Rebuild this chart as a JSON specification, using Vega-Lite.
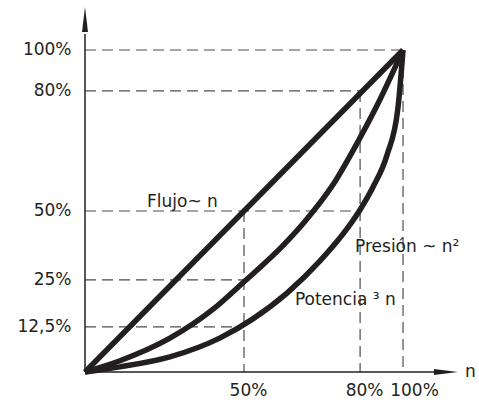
{
  "$schema": "https://vega.github.io/schema/vega-lite/v6.json",
  "width": 374,
  "height": 365,
  "autosize": {"type": "none"},
  "padding": {"left": 85, "top": 7, "right": 20, "bottom": 31},
  "background": "white",
  "config": {
    "view": {"stroke": null},
    "axis": {"grid": false, "ticks": false, "domain": false, "labelFont": "DejaVu Sans", "labelFontSize": 17, "labelColor": "#231f20", "title": null, "labelOverlap": false, "labelBound": false, "labelFlush": false}
  },
  "datasets": {
    "dashes": [
      {"x": 0, "y": 100, "x2": 100, "y2": 100},
      {"x": 0, "y": 87.3, "x2": 86.5, "y2": 87.3},
      {"x": 0, "y": 50, "x2": 86.5, "y2": 50},
      {"x": 0, "y": 28.6, "x2": 50, "y2": 28.6},
      {"x": 0, "y": 14, "x2": 50, "y2": 14},
      {"x": 50, "y": 50, "x2": 50, "y2": 0},
      {"x": 86.5, "y": 87.3, "x2": 86.5, "y2": 0},
      {"x": 100, "y": 100, "x2": 100, "y2": 0}
    ],
    "axes": [
      {"x": 0, "y": 0, "x2": 110, "y2": 0},
      {"x": 0, "y": 0, "x2": 0, "y2": 105}
    ],
    "curves": [
      {"s": "flujo", "x": 0, "y": 0},
      {"s": "flujo", "x": 100, "y": 100},
      {"s": "presion", "x": 0, "y": 0},
      {"s": "presion", "x": 11, "y": 3.5},
      {"s": "presion", "x": 26.7, "y": 10.5},
      {"s": "presion", "x": 40.3, "y": 19.5},
      {"s": "presion", "x": 50, "y": 28},
      {"s": "presion", "x": 62.3, "y": 39.3},
      {"s": "presion", "x": 69.2, "y": 46.8},
      {"s": "presion", "x": 78, "y": 58.2},
      {"s": "presion", "x": 85.8, "y": 71.5},
      {"s": "presion", "x": 92.8, "y": 84.7},
      {"s": "presion", "x": 100, "y": 100},
      {"s": "potencia", "x": 0, "y": 0},
      {"s": "potencia", "x": 11, "y": 1.6},
      {"s": "potencia", "x": 26.7, "y": 4.7},
      {"s": "potencia", "x": 42.5, "y": 10.6},
      {"s": "potencia", "x": 52.8, "y": 16.5},
      {"s": "potencia", "x": 63.5, "y": 24.5},
      {"s": "potencia", "x": 73.9, "y": 34.5},
      {"s": "potencia", "x": 82.4, "y": 44.5},
      {"s": "potencia", "x": 86.5, "y": 50.4},
      {"s": "potencia", "x": 90.6, "y": 57.5},
      {"s": "potencia", "x": 95, "y": 67.5},
      {"s": "potencia", "x": 98.4, "y": 82},
      {"s": "potencia", "x": 100, "y": 100}
    ],
    "labels": [
      {"x": 19.5, "y": 51.2, "t": "Flujo~  n"},
      {"x": 84.9, "y": 37.3, "t": "Presión ~ n²"},
      {"x": 66, "y": 20.8, "t": "Potencia  ³ n"},
      {"x": 119.5, "y": -1.5, "t": "n"}
    ],
    "arrowY": [{"x": 0, "y": 109.5}],
    "arrowX": [{"x": 113.5, "y": 0}]
  },
  "encoding": {
    "x": {
      "field": "x", "type": "quantitative",
      "scale": {"domain": [0, 117.6], "nice": false, "zero": false},
      "axis": {
        "values": [50, 86.5, 100],
        "labelExpr": "datum.value == 50 ? '50%' : datum.value == 100 ? '100%' : '80%'",
        "labelPadding": 10,
        "labelOffset": {"condition": {"test": "datum.value == 100", "value": 11}, "value": 4}
      }
    },
    "y": {
      "field": "y", "type": "quantitative",
      "scale": {"domain": [0, 113.35], "nice": false, "zero": false},
      "axis": {
        "values": [14, 28.6, 50, 87.3, 100],
        "labelExpr": "datum.value == 14 ? '12,5%' : datum.value == 28.6 ? '25%' : datum.value == 50 ? '50%' : datum.value == 87.3 ? '80%' : '100%'",
        "labelPadding": 14
      }
    }
  },
  "layer": [
    {
      "data": {"name": "dashes"},
      "mark": {"type": "rule", "color": "#4d4d4d", "strokeWidth": 1.2, "strokeDash": [11, 6]},
      "encoding": {"x2": {"field": "x2"}, "y2": {"field": "y2"}}
    },
    {
      "data": {"name": "axes"},
      "mark": {"type": "rule", "color": "#231f20", "strokeWidth": 1.5},
      "encoding": {"x2": {"field": "x2"}, "y2": {"field": "y2"}}
    },
    {
      "data": {"name": "curves"},
      "mark": {"type": "line", "color": "#231f20", "strokeWidth": 5.5, "interpolate": "monotone", "strokeJoin": "round"},
      "encoding": {"detail": {"field": "s"}}
    },
    {
      "data": {"name": "arrowY"},
      "mark": {"type": "point", "shape": "M0,-1L0.24,1L-0.24,1Z", "size": 625, "filled": true, "opacity": 1, "color": "#231f20", "strokeWidth": 0}
    },
    {
      "data": {"name": "arrowX"},
      "mark": {"type": "point", "shape": "M1,0L-1,-0.25L-1,0.25Z", "size": 576, "filled": true, "opacity": 1, "color": "#231f20", "strokeWidth": 0}
    },
    {
      "data": {"name": "labels"},
      "mark": {"type": "text", "align": "left", "baseline": "alphabetic", "font": "DejaVu Sans", "fontSize": 17, "color": "#231f20"},
      "encoding": {"text": {"field": "t"}}
    }
  ]
}
